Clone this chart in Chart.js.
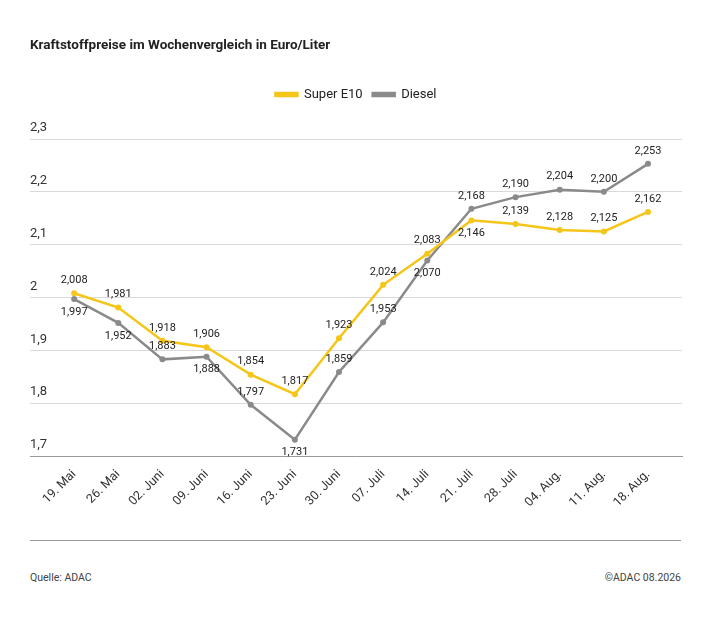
<!DOCTYPE html>
<html><head><meta charset="utf-8">
<script src="https://cdn.jsdelivr.net/npm/chart.js@4/dist/chart.umd.min.js"></script>
<style>
body{margin:0;background:#fff;font-family:Roboto,"Noto Sans",sans-serif;}
#wrap{position:relative;width:710px;height:643px;}
#title{position:absolute;left:30px;top:36px;font-size:13.5px;font-weight:bold;color:#222;}
#c{position:absolute;left:0;top:0;}
#rule{position:absolute;left:30px;top:540px;width:651px;height:1px;background:#999;}
.foot{position:absolute;top:571px;font-size:10.5px;color:#444;}
</style></head><body>
<div id="wrap">
<canvas id="c" width="710" height="513" style="width:710px;height:513px"></canvas>
<div id="title">Kraftstoffpreise im Wochenvergleich in Euro/Liter</div>
<div id="rule"></div>
<div class="foot" style="left:30px">Quelle: ADAC</div>
<div class="foot" style="right:29px">©ADAC 08.2026</div>
</div>
<script>
const categories=["19. Mai","26. Mai","02. Juni","09. Juni","16. Juni","23. Juni","30. Juni","07. Juli","14. Juli","21. Juli","28. Juli","04. Aug.","11. Aug.","18. Aug."];
const superE10=[2.008,1.981,1.918,1.906,1.854,1.817,1.923,2.024,2.083,2.146,2.139,2.128,2.125,2.162];
const diesel=[1.997,1.952,1.883,1.888,1.797,1.731,1.859,1.953,2.070,2.168,2.190,2.204,2.200,2.253];
const e10LabelSide=["a","a","a","a","a","a","a","a","a","b","a","a","a","a"];
const dieselLabelSide=["b","b","a","b","a","b","a","a","b","a","a","a","a","a"];
const fmt=v=>v.toLocaleString('de-DE',{minimumFractionDigits:3,maximumFractionDigits:3});
const labelPlugin={id:'vals',afterDatasetsDraw(chart){
  const ctx=chart.ctx;ctx.save();ctx.font='11px Roboto, sans-serif';ctx.fillStyle='#222';ctx.textAlign='center';ctx.textBaseline='middle';
  chart.data.datasets.forEach((ds,di)=>{
    const sides=di===0?e10LabelSide:dieselLabelSide;
    chart.getDatasetMeta(di).data.forEach((p,i)=>{
      const off=sides[i]==='a'?-13:13;
      ctx.fillText(fmt(ds.data[i].y),p.x,p.y+off);
    });
  });ctx.restore();}};
const legendSpace={id:'legendSpace',beforeInit(chart){const f=chart.legend.fit;chart.legend.fit=function(){f.bind(chart.legend)();this.height+=28;};}};
const mk=arr=>arr.map((v,i)=>({x:i,y:v}));
new Chart(document.getElementById('c'),{type:'line',
 data:{datasets:[
  {label:'Super E10',data:mk(superE10),borderColor:'#f5c518',backgroundColor:'#f5c518',borderWidth:2.5,pointRadius:3,pointBackgroundColor:'#f5c518',pointBorderWidth:0},
  {label:'Diesel',data:mk(diesel),borderColor:'#8a8a8a',backgroundColor:'#8a8a8a',borderWidth:2.5,pointRadius:3,pointBackgroundColor:'#8a8a8a',pointBorderWidth:0}
 ]},
 options:{responsive:false,animation:false,
  layout:{padding:{left:30,right:28,top:78,bottom:0}},
  plugins:{title:{display:false},tooltip:{enabled:false},
   legend:{position:'top',labels:{boxWidth:22,boxHeight:3,font:{size:13,family:'Roboto'},color:'#222',padding:10}}},
  scales:{
   x:{type:'linear',min:-1,max:13.77,
    afterBuildTicks:s=>{s.ticks=categories.map((c,i)=>({value:i}));},
    ticks:{callback:(v)=>categories[v],maxRotation:45,minRotation:45,font:{size:12.5,family:'Roboto'},color:'#333',autoSkip:false},
    grid:{display:false},border:{display:true,color:'#999'}},
   y:{min:1.7,max:2.3,
    ticks:{stepSize:0.1,mirror:true,padding:0,labelOffset:-11,font:{size:13,family:'Roboto'},color:'#333',callback:v=>Number(v.toFixed(1)).toLocaleString('de-DE')},
    grid:{color:'#d9d9d9',drawTicks:false},border:{display:false}}
  }},
 plugins:[labelPlugin,legendSpace]});
</script>
</body></html>
